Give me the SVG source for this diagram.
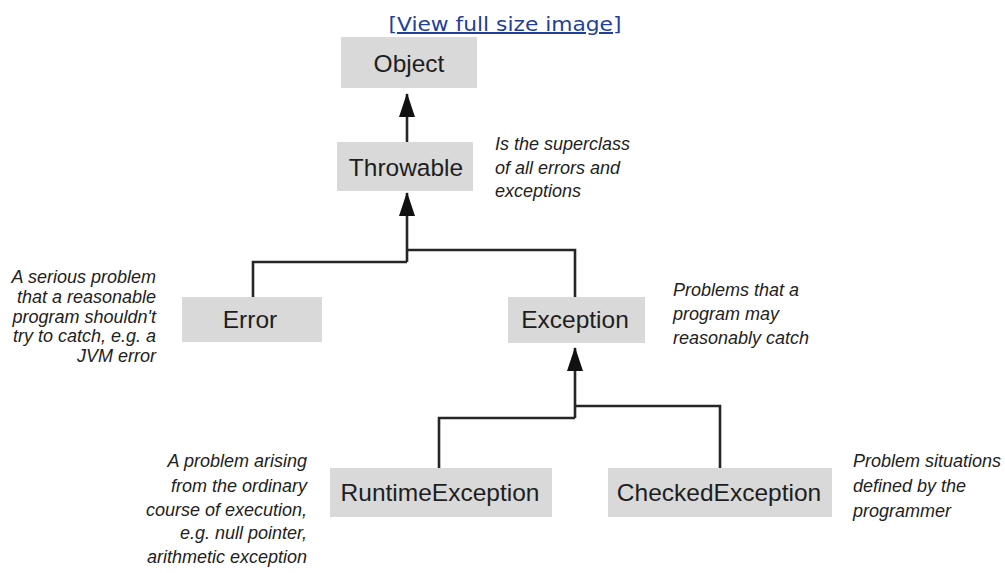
<svg xmlns="http://www.w3.org/2000/svg" width="1005" height="573" viewBox="0 0 1005 573">
  <defs>
    <style>
      .box { fill: #d9d9d9; }
      .lbl { font-family: "Liberation Sans", Arial, sans-serif; font-size: 24.5px; fill: #1e1e1e; text-anchor: middle; }
      .note { font-family: "Liberation Sans", Arial, sans-serif; font-size: 18px; font-style: italic; fill: #222; }
      .end { text-anchor: end; }
      .conn { fill: none; stroke: #262626; stroke-width: 2.6; }
      .link { font-family: "DejaVu Sans", Verdana, sans-serif; font-size: 20px; fill: #1f3f99; text-decoration: underline; }
    </style>
    <marker id="arrow" viewBox="0 0 24 16" refX="23" refY="8" markerWidth="24" markerHeight="16" markerUnits="userSpaceOnUse" orient="auto">
      <path d="M0 0 L24 8 L0 16 Z" fill="#111"/>
    </marker>
  </defs>
  <rect width="1005" height="573" fill="#ffffff"/>

  <text class="link" x="505" y="31" text-anchor="middle" textLength="233" lengthAdjust="spacingAndGlyphs">[View full size image]</text>

  <g id="connectors">
    <path class="conn" d="M407 142 V94" marker-end="url(#arrow)"/>
    <path class="conn" d="M407 262 V193" marker-end="url(#arrow)"/>
    <path class="conn" d="M407 262 H253 V297"/>
    <path class="conn" d="M407 250 H575 V297"/>
    <path class="conn" d="M575 418 V348" marker-end="url(#arrow)"/>
    <path class="conn" d="M575 418 H439 V468"/>
    <path class="conn" d="M575 406 H720 V468"/>
  </g>

  <g id="object">
    <rect class="box" x="341" y="37" width="136" height="51"/>
    <text class="lbl" x="409" y="72">Object</text>
  </g>
  <g id="throwable">
    <rect class="box" x="337" y="142" width="136" height="49"/>
    <text class="lbl" x="406" y="176">Throwable</text>
  </g>
  <g id="error">
    <rect class="box" x="182" y="297" width="140" height="45"/>
    <text class="lbl" x="250" y="328">Error</text>
  </g>
  <g id="exception">
    <rect class="box" x="508" y="297" width="137" height="46"/>
    <text class="lbl" x="575" y="328">Exception</text>
  </g>
  <g id="runtimeexception">
    <rect class="box" x="330" y="468" width="222" height="49"/>
    <text class="lbl" x="440" y="501">RuntimeException</text>
  </g>
  <g id="checkedexception">
    <rect class="box" x="608" y="468" width="224" height="49"/>
    <text class="lbl" x="719" y="501">CheckedException</text>
  </g>

  <g id="note-throwable">
    <text class="note" x="495" y="150">Is the superclass</text>
    <text class="note" x="495" y="174">of all errors and</text>
    <text class="note" x="495" y="197">exceptions</text>
  </g>
  <g id="note-error">
    <text class="note end" x="156" y="283">A serious problem</text>
    <text class="note end" x="156" y="303">that a reasonable</text>
    <text class="note end" x="156" y="323">program shouldn't</text>
    <text class="note end" x="156" y="342">try to catch, e.g. a</text>
    <text class="note end" x="156" y="362">JVM error</text>
  </g>
  <g id="note-exception">
    <text class="note" x="673" y="296">Problems that a</text>
    <text class="note" x="673" y="320">program may</text>
    <text class="note" x="673" y="344">reasonably catch</text>
  </g>
  <g id="note-runtime">
    <text class="note end" x="307" y="467">A problem arising</text>
    <text class="note end" x="307" y="492">from the ordinary</text>
    <text class="note end" x="307" y="516">course of execution,</text>
    <text class="note end" x="307" y="539">e.g. null pointer,</text>
    <text class="note end" x="307" y="563">arithmetic exception</text>
  </g>
  <g id="note-checked">
    <text class="note" x="853" y="467">Problem situations</text>
    <text class="note" x="853" y="492">defined by the</text>
    <text class="note" x="853" y="517">programmer</text>
  </g>
</svg>
